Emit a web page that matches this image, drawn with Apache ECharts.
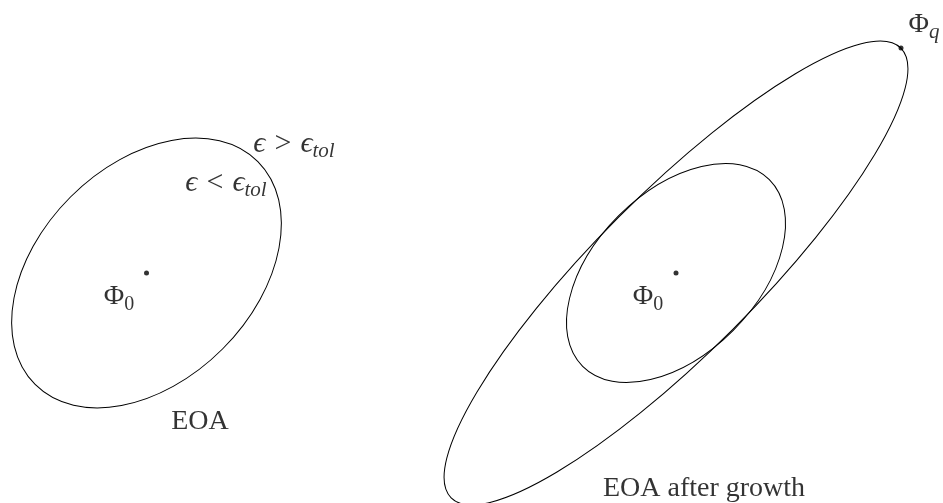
<!DOCTYPE html>
<html><head><meta charset="utf-8">
<script src="https://cdn.jsdelivr.net/npm/echarts@6/dist/echarts.min.js"></script>
<style>html,body{margin:0;padding:0;background:#fff}#c{width:943px;height:503px}</style>
</head><body><div id="c"></div>
<script>
// Ellipses (centre, semi-axes in data units, tilt in degrees)
const ellipseNames = ['EOA', 'EOA (inner)', 'EOA after growth'];
const ellipseCx = [146.5, 676, 676];
const ellipseCy = [273, 273, 273];
const ellipseA = [157.5, 132, 318];
const ellipseB = [107.5, 81, 80];
const ellipseAngle = [45, 45, 45];

// Points (centres and the tip of the grown EOA)
const pointNames = ['Φ0', 'Φ0', 'Φq'];
const pointX = [146.5, 676, 901];
const pointY = [273, 273, 48];

// Text annotations
const labelTexts = [
  '{m|ϵ}{o|>}{m|ϵ}{s|tol}',
  '{m|ϵ}{o|<}{m|ϵ}{s|tol}',
  '{r|Φ}{n|0}',
  '{r|Φ}{n|0}',
  '{r|Φ}{s|q}',
  '{r|EOA}',
  '{r|EOA after growth}'
];
const labelX = [294, 226, 119, 648, 924, 200, 704];
const labelY = [144, 183, 297, 297, 25, 422, 489];

const FONT = '"Liberation Serif", "DejaVu Serif", serif';
const chart = echarts.init(document.getElementById('c'), null, {renderer: 'canvas'});
chart.setOption({
  animation: false,
  backgroundColor: '#ffffff',
  grid: {left: 0, right: 0, top: 0, bottom: 0},
  xAxis: {type: 'value', min: 0, max: 943, show: false},
  yAxis: {type: 'value', min: 0, max: 503, inverse: true, show: false},
  series: [
    {
      type: 'custom',
      name: 'ellipses',
      clip: false,
      data: ellipseNames.map((n, i) => ({name: n, value: [ellipseCx[i], ellipseCy[i], ellipseA[i], ellipseB[i], ellipseAngle[i]]})),
      renderItem: function (params, api) {
        const c = api.coord([api.value(0), api.value(1)]);
        const s = api.size([api.value(2), api.value(3)]);
        return {
          type: 'ellipse',
          x: c[0], y: c[1],
          rotation: api.value(4) * Math.PI / 180,
          shape: {cx: 0, cy: 0, rx: Math.abs(s[0]), ry: Math.abs(s[1])},
          style: {fill: 'none', stroke: '#000', lineWidth: 1}
        };
      }
    },
    {
      type: 'scatter',
      name: 'points',
      symbol: 'circle',
      symbolSize: 5,
      itemStyle: {color: '#000'},
      data: pointNames.map((n, i) => ({name: n, value: [pointX[i], pointY[i]]}))
    },
    {
      type: 'scatter',
      name: 'labels',
      symbolSize: 0,
      silent: true,
      data: labelTexts.map((t, i) => ({name: t, value: [labelX[i], labelY[i]]})),
      label: {
        show: true,
        position: 'inside',
        align: 'center',
        verticalAlign: 'middle',
        formatter: p => p.name,
        rich: {
          r: {fontFamily: FONT, fontSize: 28, color: '#000', lineHeight: 36, verticalAlign: 'middle'},
          o: {fontFamily: FONT, fontSize: 30, color: '#000', lineHeight: 36, verticalAlign: 'middle', padding: [0, 9, 0, 9]},
          m: {fontFamily: FONT, fontSize: 30, fontStyle: 'italic', color: '#000', lineHeight: 36, verticalAlign: 'middle'},
          s: {fontFamily: FONT, fontSize: 21, fontStyle: 'italic', color: '#000', lineHeight: 20, verticalAlign: 'bottom'},
          n: {fontFamily: FONT, fontSize: 20, color: '#000', lineHeight: 20, verticalAlign: 'bottom'}
        }
      }
    }
  ]
});
</script></body></html>
